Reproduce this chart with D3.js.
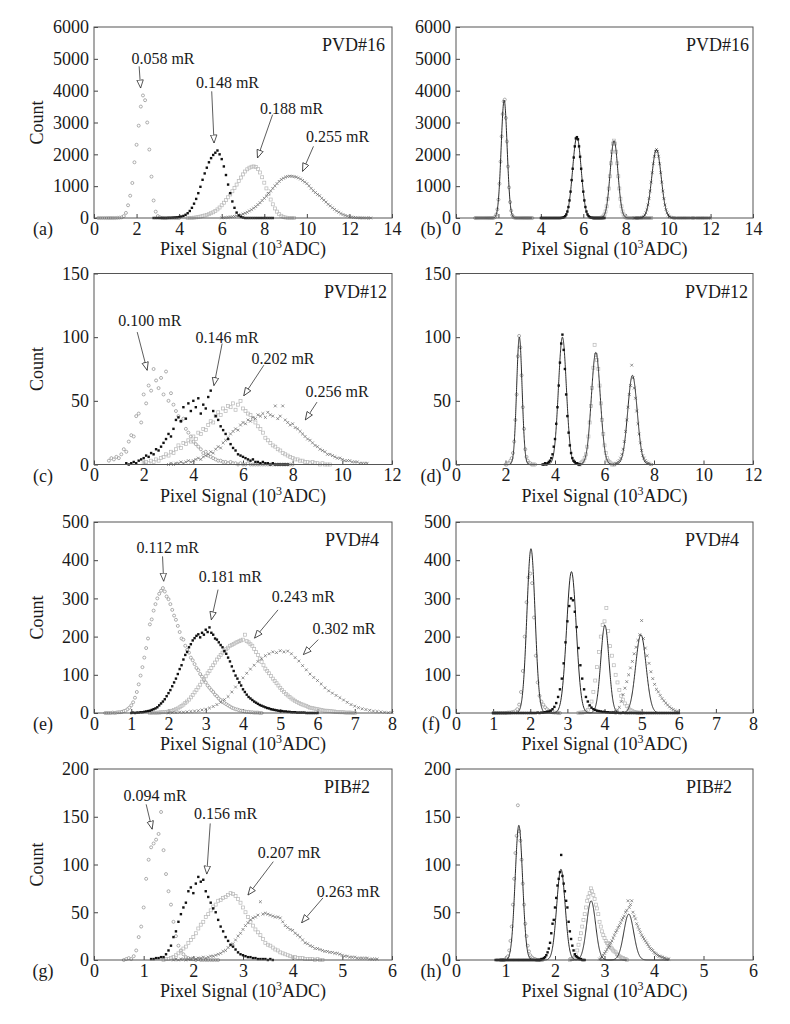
<!DOCTYPE html>
<html><head><meta charset="utf-8">
<script src="https://cdn.jsdelivr.net/npm/d3@7"></script>
<style>
body{margin:0;background:#fff}
svg{display:block}
text{font-family:"Liberation Serif","Times New Roman",serif;fill:#1a1a1a}
</style>
</head><body>
<svg id="chart" width="790" height="1024"></svg>
<script>
// ---------------- DATA ----------------
// dose labels per detector
const doses16 = ["0.058 mR","0.148 mR","0.188 mR","0.255 mR"];
const doses12 = ["0.100 mR","0.146 mR","0.202 mR","0.256 mR"];
const doses4  = ["0.112 mR","0.181 mR","0.243 mR","0.302 mR"];
const dosesP2 = ["0.094 mR","0.156 mR","0.207 mR","0.263 mR"];

// tick labels
const xTicks16 = [0,2,4,6,8,10,12,14];
const yTicks16 = [0,1000,2000,3000,4000,5000,6000];
const xTicks12 = [0,2,4,6,8,10,12];
const yTicks12 = [0,50,100,150];
const xTicks4  = [0,1,2,3,4,5,6,7,8];
const yTicks4  = [0,100,200,300,400,500];
const xTicksP2 = [0,1,2,3,4,5,6];
const yTicksP2 = [0,50,100,150,200];

// histogram bins: first bin centre (10^3 ADC) and bin width per series
// (a) PVD#16
const a_x0 = [0.2, 2.8, 4.4, 6.0];
const a_dx = [0.1, 0.1, 0.1, 0.1];
const a_s1 = [0,0,0,0,0,0,0,0,0,5,10, 20,60,160,400,700,1100,1750,2300,2900,3500,3850,3700,3000,2150,1300,550,200,60,20,5, 0,0,0,0,0,0,0,0];
const a_s2 = [0,0,0,0,0,0,0,5,5,10,15, 20,30,45,65,100,150,220,320,450,600,780,980,1200,1400,1580,1750,1880,1980,2050,2120,2000,1850,1620,1350,1050,780,520,320,170,80,35,15, 0,0,0,0,0,0,0,0,0,0,0,0,0,0];
const a_s3 = [0,0,5,10,20,30,45,60,80, 100,120,150,180,220,270,330,400,480,560,650,740,840,940,1050,1160,1270,1370,1460,1530,1580,1610,1620,1600,1540,1430,1280,1110,930,750,580,430,300,200,120,70,35,15,5, 0,0,0];
const a_s4 = [5,10,15,20,30,40,50,65,80,100,125,150,180,220,260,310,360,420,480,550,620,690,770,850,930,1010,1080,1150,1210,1250, 1285,1305,1315,1310,1300,1285,1260,1225,1180,1130, 1080,1010,930,860,800,740,700,620,560,500, 430,380,320,270,220,180,140,110,80,60, 40,30,20,12,8,5,3,2,0,0,0];

// (b) PVD#16 narrowed
const b_x0 = [0.9, 4.0, 6.5, 8.4];
const b_dx = [0.05, 0.05, 0.05, 0.05];
const b_s1 = [0,0,0,0,0,0,0,0,0,0,0,0,0,0,0,0,0, 4,13,41,113,272,577,1076,1770,2563,3265,3663,3720,3143,2404,1618,959,500,229,93,33,10,3, 0,0,0,0,0,0,0,0,0,0,0,0,0,0,0,0];
const b_s2 = [0,0,0,0,0,0,0,0,0,0,0,0,0,0,0,0,0,0,0, 2,6,13,28,58,112,203,345,552,828,1190,1547,1900,2250,2500,2540,2472,2250,1925,1547,1168,828,552,345,203,112,58,28,13,6,2, 0,0,0,0,0,0,0,0,0,0,0];
const b_s3 = [0,0,0,0,0,0, 4,9,23,51,107,206,367,605,926,1311,1718,2083,2338,2430,2338,2083,1718,1311,926,605,367,206,107,51,23,9,4, 0,0,0,0,0,0,0,0,0,0,0,0,0,0,0,0,0,0,0,0,0,0];
const b_s4 = [0,0,0,0,0, 3,6,14,27,52,95,163,265,411,607,848,1127,1423,1704,1939,2095,2150,2095,1939,1704,1423,1127,848,607,411,265,163,95,52,27,14,6,3, 0,0,0,0,0,0,0,0,0,0,0,0,0,0,0,0,0,0,0,0,0,0,0,0,0,0,0,0,0,0,0,0,0,0,0];
const b_mu = [2.27, 5.70, 7.45, 9.45];
const b_sigma = [0.14, 0.20, 0.18, 0.22];
const b_amp = [3700, 2550, 2430, 2150];

// (c) PVD#12
const c_x0 = [0.6, 1.3, 2.0, 3.0];
const c_dx = [0.1, 0.1, 0.1, 0.1];
const c_s1 = [3,5,4,6,5,8,12,10,18,23, 22,38,40,33,55,48,62,58,75,66, 60,68,55,73,50,56,47,42,38,34, 36,28,25,22,18,16,14,12,9,10, 7,6,5,4,3,3,2,2,1,2, 1,1,0,1,0,0,1,0,0,0, 0,0,0,0,0,0,0,0,0,0, 0,0,0,0,0];
const c_s2 = [1,0,1,2,1,3,4,5,7,6, 9,8,12,11,14,17,20,24,22,28, 35,37,34,45,36,48,42,50,45,52, 40,47,44,53,58,42,38,35,30,27, 24,20,16,13,11,8,7,6,5,4, 3,4,2,2,1,2,1,1,0,1, 0,0,0,0,0,0];
const c_s3 = [1,2,1,3,2,4,3,5,6,8, 7,10,9,12,15,13,17,16,19,18, 22,20,25,24,28,27,31,34,33,38, 41,39,44,42,46,45,48,43,47,50, 44,42,40,39,36,33,30,28,25,21, 19,17,15,14,12,11,9,8,7,6, 5,4,4,3,3,2,2,1,2,1, 1,0,1,0,0,0];
const c_s4 = [0,1,0,1,1,2,1,2,3,2, 3,4,5,4,6,7,8,10,9,12, 14,13,17,19,21,24,26,28,27,31, 33,32,35,34,37,36,39,38,40,37, 41,39,38,46,36,38,46,35,33,31, 32,29,28,26,24,22,20,19,17,15, 14,12,11,10,8,8,7,6,5,5, 4,3,3,3,2,2,2,1,1,1, 1];

// (d) PVD#12 narrowed
const d_x0 = [2.0, 3.5, 5.0, 6.4];
const d_dx = [0.05, 0.05, 0.05, 0.05];
const d_s1 = [0,0,1,1,3,5,9,18,35,55,85,101,92,70,45,28,12,6,3,1,1,0,0,0,0];
const d_s2 = [0,0,1,0,1,2,3,5,8,14,20,32,45,62,80,95,102,90,75,55,38,25,15,9,5,3,2,1,1,0,0];
const d_s3 = [0,1,2,3,5,8,14,22,33,46,60,76,94,86,82,75,62,48,35,24,15,9,5,3,2,1,0,0,0];
const d_s4 = [0,1,1,2,3,5,8,12,18,26,35,45,55,62,78,68,60,52,42,32,24,17,11,7,5,3,2,1,1,0,0];
const d_mu = [2.56, 4.30, 5.65, 7.13];
const d_sigma = [0.11, 0.16, 0.18, 0.19];
const d_amp = [100, 100, 88, 70];

// (e) PVD#4
const e_x0 = [0.3, 1.0, 1.5, 2.0];
const e_dx = [0.05, 0.05, 0.05, 0.1];
const e_s1 = [0,0,0,0,1,0,1,2,2,3, 5,6,10,14,20,28,40,55,75,98, 120,145,170,195,232,245,268,285,300,312, 320,327,318,305,298,285,270,255,244,228, 212,195,192,176,165,158,145,138,128,118, 112,102,95,86,80,72,66,60,55,48, 44,38,34,30,26,23,20,17,14,12, 10,9,7,6,5,4,3,3,2,2, 1,1,1,0,0];
const e_s2 = [0,1,0,1,1,2,2,3,4,5, 6,8,10,12,15,20,25,30,36,44, 52,60,70,80,90,102,115,125,140,152, 160,172,180,190,196,202,206,198,210,205, 218,212,224,210,205,195,192,185,178,172, 162,155,145,135,122,110,98,90,80,72, 62,55,48,42,38,34,30,27,24,21, 19,17,15,13,12,10,9,8,7,6, 5,5,4,4,3,3,2,2,2,1, 1,1,1,1,0,0,0,0,0,0, 0];
const e_s3 = [0,0,1,0,1,1,2,2,3,3, 4,5,6,8,10,12,15,18,22,26, 30,35,41,47,54,60,67,74,82,89, 96,104,110,118,125,132,140,146,152,158, 163,167,171,176,178,181,184,186,188,190, 192,205,188,185,180,176,168,160,152,143, 134,125,116,110,104,97,90,84,78,72, 66,60,55,50,46,42,38,35,32,29, 26,24,22,20,18,16,14,13,12,11, 10,9,8,7,6,6,5,5,4,4, 3,3,2,2,2,1,1,1,1,0, 0];
const e_s4 = [0,1,1,2,2,3,4,5,6,8, 10,13,17,22,28,35,43,55,68,80, 92,104,115,125,135,142,150,155,160,158, 163,160,162,155,145,136,124,113,102,93, 85,76,66,58,52,46,40,34,28,22, 18,14,11,9,7,5,4,3,2,1, 1];

// (f) PVD#4 narrowed
const f_x0 = [1.0, 1.0, 3.3, 4.2];
const f_dx = [0.05, 0.05, 0.05, 0.05];
const f_s1 = [0,0,0,0,0,0,0,0, 1,1,2,3,5,10,22,55,110,200,290,355,365,340,250,150,80,45,30,22,15,10,6,4,2,1,1,0,0];
const f_s2 = [0,0,0,0,0,0,0,0,0,0,0,0,0,0,0,0,0,0,0,0,0,0,0,0,1,0,1,1, 2,3,4,6,10,16,26,42,62,90,130,185,240,280,300,295,265,225,170,125,90,62,42,30,20,14,10,8,6,5,4,3,3,2,2,1,1, 1,0,1,0,0,1,0,0,0,0,0,0,0,0,0,0,0,0,0,0,0,0,0,0,0,0,0,0,0,0,0,0,0,0,0,0];
const f_s3 = [0,1,1,2,4,8,15,30,55,85,120,160,200,230,240,275,215,175,150,125,100,80,60,45,35,25,18,12,8,5,3,2,1,1,0];
const f_s4 = [1,2,4,8,15,30,48,65,82,100,118,135,155,172,190,205,242,195,170,150,130,108,90,75,62,55,46,38,32,26,21,16,12,9,6,4,2];
const f_mu = [2.02, 3.11, 4.01, 4.98];
const f_sigma = [0.11, 0.13, 0.11, 0.14];
const f_amp = [430, 370, 230, 205];

// (g) PIB#2
const g_x0 = [0.6, 1.15, 1.4, 1.6];
const g_dx = [0.05, 0.05, 0.05, 0.05];
const g_s1 = [0,1,2,1,4,10,24,35,55,85,105,118,122,126,132,155,115,90,72,58,40,25,15,10,6,3,2,1,1,0,1,0,0,0,0,0,0,0,0];
const g_s2 = [1,1,2,2,3,3,6,10,15,24,30,40,48,55,60,72,76,70,80,87,82,84,72,66,60,54,50,42,35,30,24,20,16,14,11,8,6,5,4,3,3,2,2,1,1,1,1,0,1,0];
const g_s3 = [0,1,1,2,3,5,7,9,12,14, 18,21,24,28,33,37,40,45,48,52, 56,58,62,63,65,66,68,70,69,67, 64,60,55,50,45,40,36,32,29,26, 22,18,16,15,13,11,10,8,7,6, 5,4,3,3,2,2,2,1,1,1, 1,0,1,0,0];
const g_s4 = [0,1,0,1,1,0,1,1,2,1, 2,2,3,2,3,4,4,5,6,7, 9,10,13,15,17,21,25,28,32,36, 39,42,44,45,47,61,48,49,48,47, 46,45,45,44,40,36,34,32,31,28, 26,24,21,18,17,15,14,12,12,11, 10,9,9,8,8,7,7,6,5,4, 4,3,3,3,2,2,2,2,2,1, 1,1,1];

// (h) PIB#2 narrowed
const h_x0 = [0.9, 0.8, 2.3, 2.9];
const h_dx = [0.025, 0.025, 0.025, 0.025];
const h_s1 = [0,0,0,0,1,2,4,10,20,35,58,85,112,130,162,135,125,105,80,58,38,25,15,9,5,3,2,1,1,0,0,0,0,0,0];
const h_s2 = [0,0,0,0,0,0,0,0,0,0,0,0,0,0,0,0,0,0,0,0,0,0,0,0,0,0,0,0,0,0,0,0,0,0,0,0, 0,1,1,2,3,5,8,12,18,28,38,42,55,65,78,85,92,110,88,80,72,62,55,40,30,22,15,10,6,4,3,2,1,1,0,0,0];
const h_s3 = [0,1,1,2,3,5,10,16,22,28,35,42,48,55,62,66,70,75,72,68,64,58,54,48,40,35,30,26,23,20,18,17,15,13,12,10,9,8,6,5,4,3,2,2,1,1,0];
const h_s4 = [1,2,3,5,7,9,11,13,15,18,20,23,26,29,31,34,36,39,42,44,46,50,52,62,55,58,62,50,46,43,38,35,32,29,26,24,22,20,18,16,14,12,11,10,8,7,6,5,4,4,3,3,2,2,1,1,1];
const h_mu = [1.27, 2.12, 2.73, 3.49];
const h_sigma = [0.075, 0.085, 0.09, 0.10];
const h_amp = [141, 95, 62, 48];

// ---------------- LAYOUT ----------------
const rowTop = [27, 273.5, 522, 769];
const plotH = 191;
const colLeft = [94, 456];
const colW = [298, 297];

// annotation placement in data units: label centre, arrow start, arrow tip
const annA = [[3.24,5005,2.12,4764,2.19,4083],[6.27,4261,5.53,3979,5.64,2356],[9.28,3455,8.39,3246,7.68,1885],[11.44,2565,10.31,2251,9.80,1466]];
const annC = [[2.25,113,1.74,104,2.14,74],[5.36,100,5.16,95,4.83,62],[7.61,83,6.84,78,6.03,54],[9.79,57,8.98,49,8.51,35]];
const annE = [[1.98,432,1.84,410,1.87,345],[3.66,358,3.33,323,3.15,244],[5.62,304,4.94,270,4.31,196],[6.71,221,6.02,192,5.62,153]];
const annG = [[1.23,172,1.05,163,1.17,137],[2.65,153,2.34,143,2.27,90],[3.93,113,3.61,103,3.10,68],[5.12,72,4.61,65,4.18,39]];

function pack(x0, dx, arrs){ return arrs.map((a,i)=>({x0:x0[i], dx:dx[i], n:a})); }

const panels = [
 {id:"(a)", row:0, col:0, xMax:14, yMax:6000, xt:xTicks16, yt:yTicks16, title:"PVD#16", tOff:7, doses:doses16, ann:annA, series:pack(a_x0,a_dx,[a_s1,a_s2,a_s3,a_s4])},
 {id:"(b)", row:0, col:1, xMax:14, yMax:6000, xt:xTicks16, yt:yTicks16, title:"PVD#16", tOff:4, series:pack(b_x0,b_dx,[b_s1,b_s2,b_s3,b_s4]), fit:[b_mu,b_sigma,b_amp]},
 {id:"(c)", row:1, col:0, xMax:12, yMax:150, xt:xTicks12, yt:yTicks12, title:"PVD#12", tOff:5, doses:doses12, ann:annC, series:pack(c_x0,c_dx,[c_s1,c_s2,c_s3,c_s4])},
 {id:"(d)", row:1, col:1, xMax:12, yMax:150, xt:xTicks12, yt:yTicks12, title:"PVD#12", tOff:5, series:pack(d_x0,d_dx,[d_s1,d_s2,d_s3,d_s4]), fit:[d_mu,d_sigma,d_amp]},
 {id:"(e)", row:2, col:0, xMax:8, yMax:500, xt:xTicks4, yt:yTicks4, title:"PVD#4", tOff:13, doses:doses4, ann:annE, series:pack(e_x0,e_dx,[e_s1,e_s2,e_s3,e_s4])},
 {id:"(f)", row:2, col:1, xMax:8, yMax:500, xt:xTicks4, yt:yTicks4, title:"PVD#4", tOff:14, series:pack(f_x0,f_dx,[f_s1,f_s2,f_s3,f_s4]), fit:[f_mu,f_sigma,f_amp]},
 {id:"(g)", row:3, col:0, xMax:6, yMax:200, xt:xTicksP2, yt:yTicksP2, title:"PIB#2", tOff:22, doses:dosesP2, ann:annG, series:pack(g_x0,g_dx,[g_s1,g_s2,g_s3,g_s4])},
 {id:"(h)", row:3, col:1, xMax:6, yMax:200, xt:xTicksP2, yt:yTicksP2, title:"PIB#2", tOff:21, series:pack(h_x0,h_dx,[h_s1,h_s2,h_s3,h_s4]), fit:[h_mu,h_sigma,h_amp]}
];

// ---------------- DRAW ----------------
const svg = d3.select("#chart");
const FONT = '"Liberation Serif","Times New Roman",serif';
svg.append("defs").append("marker")
  .attr("id","ah").attr("viewBox","0 -4 9 8").attr("refX",8.5).attr("refY",0)
  .attr("markerWidth",9).attr("markerHeight",8).attr("markerUnits","userSpaceOnUse").attr("orient","auto")
  .append("path").attr("d","M0.5,-3.2L8.5,0L0.5,3.2Z").attr("fill","#fff").attr("stroke","#333").attr("stroke-width",0.8);

const drawOrder = [0,2,3,1];

panels.forEach(p=>{
  const L = colLeft[p.col], W = colW[p.col], T = rowTop[p.row], H = plotH;
  const x = d3.scaleLinear().domain([0,p.xMax]).range([L, L+W]);
  const y = d3.scaleLinear().domain([0,p.yMax]).range([T+H, T]);
  const g = svg.append("g");

  // axes (inward ticks)
  const xa = g.append("g").attr("transform",`translate(0,${T+H})`)
    .call(d3.axisBottom(x).tickValues(p.xt).tickSizeInner(-4).tickSizeOuter(0).tickPadding(4).tickFormat(d3.format("d")));
  const ya = g.append("g").attr("transform",`translate(${L},0)`)
    .call(d3.axisLeft(y).tickValues(p.yt).tickSizeInner(-4).tickSizeOuter(0).tickPadding(5).tickFormat(d3.format("d")));
  [xa,ya].forEach(a=>{
    a.attr("font-family",FONT).attr("font-size",18);
    a.select(".domain").remove();
    a.selectAll(".tick line").attr("stroke","#444");
    a.selectAll(".tick text").attr("fill","#1a1a1a");
  });

  // data markers
  const dg = g.append("g");
  drawOrder.forEach(si=>{
    const s = p.series[si];
    const pts = s.n.map((c,i)=>[s.x0 + i*s.dx, c]);
    const sg = dg.append("g");
    if(si===0){
      sg.selectAll("circle").data(pts).join("circle")
        .attr("cx",d=>x(d[0])).attr("cy",d=>y(d[1])).attr("r",1.5)
        .attr("fill","#fff").attr("stroke","#8c8c8c").attr("stroke-width",0.7);
    } else if(si===1){
      sg.selectAll("rect").data(pts).join("rect")
        .attr("x",d=>x(d[0])-1.2).attr("y",d=>y(d[1])-1.2).attr("width",2.4).attr("height",2.4)
        .attr("fill","#111");
    } else if(si===2){
      sg.selectAll("rect").data(pts).join("rect")
        .attr("x",d=>x(d[0])-1.5).attr("y",d=>y(d[1])-1.5).attr("width",3).attr("height",3)
        .attr("fill","none").attr("stroke","#b8b8b8").attr("stroke-width",0.7);
    } else {
      sg.selectAll("path").data(pts).join("path")
        .attr("d",d=>{const cx=x(d[0]), cy=y(d[1]); return `M${cx-1.4},${cy-1.4}L${cx+1.4},${cy+1.4}M${cx-1.4},${cy+1.4}L${cx+1.4},${cy-1.4}`;})
        .attr("stroke","#666").attr("stroke-width",0.7).attr("fill","none");
    }
  });

  // Gaussian fit lines
  if(p.fit){
    const [mu,sg,amp] = p.fit;
    const line = d3.line().x(d=>x(d[0])).y(d=>y(d[1]));
    p.series.forEach((s,i)=>{
      const xa0 = s.x0, xa1 = s.x0 + s.dx*(s.n.length-1);
      const pts = d3.range(0,401).map(k=>{const xv = xa0 + (xa1-xa0)*k/400; return [xv, amp[i]*Math.exp(-Math.pow(xv-mu[i],2)/(2*sg[i]*sg[i]))];});
      g.append("path").attr("d",line(pts)).attr("fill","none").attr("stroke","#111").attr("stroke-width",0.9);
    });
  }

  // frame
  g.append("rect").attr("x",L).attr("y",T).attr("width",W).attr("height",H)
    .attr("fill","none").attr("stroke","#555").attr("stroke-width",1);

  // annotations
  if(p.ann){
    p.ann.forEach((a,i)=>{
      g.append("line").attr("x1",x(a[2])).attr("y1",y(a[3])).attr("x2",x(a[4])).attr("y2",y(a[5]))
        .attr("stroke","#333").attr("stroke-width",0.8).attr("marker-end","url(#ah)");
      g.append("text").attr("x",x(a[0])).attr("y",y(a[1])).attr("text-anchor","middle")
        .attr("dominant-baseline","central").attr("font-size",16).text(p.doses[i]);
    });
  }

  // detector title
  g.append("text").attr("x",L+W-p.tOff).attr("y",T+24).attr("text-anchor","end").attr("font-size",18).text(p.title);

  // panel id
  g.append("text").attr("x",p.col===0?43:431).attr("y",T+H+17).attr("text-anchor","middle").attr("font-size",18).text(p.id);

  // x-axis title
  const xt = g.append("text").attr("x",L+W/2).attr("y",T+H+37).attr("text-anchor","middle").attr("font-size",18);
  xt.append("tspan").text("Pixel Signal (10");
  xt.append("tspan").attr("font-size",12).attr("dy",-7).text("3");
  xt.append("tspan").attr("dy",7).text("ADC)");

  // y-axis title
  if(p.col===0){
    g.append("text").attr("transform",`translate(37,${T+H/2}) rotate(-90)`).attr("text-anchor","middle")
      .attr("dominant-baseline","central").attr("font-size",18).text("Count");
  }
});
</script>
</body></html>
